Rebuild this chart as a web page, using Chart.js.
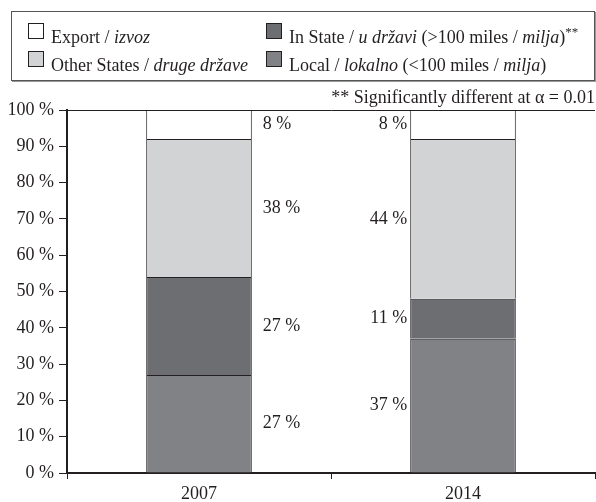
<!DOCTYPE html>
<html>
<head>
<meta charset="utf-8">
<script src="https://cdn.jsdelivr.net/npm/chart.js@4/dist/chart.umd.min.js"></script>
<style>
    body { margin: 0; background: #fff; }
    #wrap { position: relative; width: 596px; height: 502px; font-family: 'Liberation Serif', 'Times New Roman', serif; color: #231f20; }
    #legend { position: absolute; left: 11px; top: 11px; width: 582px; height: 68px; border: 1px solid #555; box-shadow: 1px 1px 0 #999; }
    .sw { position: absolute; width: 14px; height: 14px; border: 1px solid #231f20; }
    .lt { position: absolute; font-size: 18px; line-height: 18px; white-space: nowrap; }
    .lt sup { font-size: 13px; vertical-align: 7px; line-height: 0; }
    #note { position: absolute; right: 1px; top: 88px; font-size: 18px; line-height: 18px; white-space: nowrap; }
    canvas { position: absolute; left: 0; top: 0; }
</style>
</head>
<body>
<div id="wrap">
    <canvas id="chart" width="596" height="502"></canvas>
    <div id="legend"></div>
    <div id="note">** Significantly different at α = 0.01</div>
</div>
<script>
// Data
const years = ['2007', '2014'];
const local = [27, 37];
const inState = [27, 11];
const otherStates = [38, 44];
const exportShare = [8, 8];
const yTicks = [0, 10, 20, 30, 40, 50, 60, 70, 80, 90, 100];

const textColor = '#231f20';
const serif = "'Liberation Serif', 'Times New Roman', serif";

// Legend entries (html so the italic parts stay as real text)
const legendItems = [
    { color: '#ffffff', html: 'Export / <i>izvoz</i>', x: 16, y: 11 },
    { color: '#d1d3d4', html: 'Other States / <i>druge države</i>', x: 16, y: 39 },
    { color: '#6d6e71', html: 'In State / <i>u državi</i> (&gt;100 miles / <i>milja</i>)<sup>**</sup>', x: 254, y: 11 },
    { color: '#808285', html: 'Local / <i>lokalno</i> (&lt;100 miles / <i>milja</i>)', x: 254, y: 39 }
];

const legend = document.getElementById('legend');
legend.innerHTML = legendItems.map(item => `
    <div class="sw" style="left:${item.x}px;top:${item.y}px;background:${item.color}"></div>
    <div class="lt" style="left:${item.x + 23}px;top:${item.y + 5}px">${item.html}</div>
`).join('');

/**
 * Percent labels next to each segment: right of the 2007 bar, left of the 2014 bar
 */
const segmentLabels = {
    id: 'segmentLabels',
    afterDatasetsDraw(chart) {
        const ctx = chart.ctx;
        ctx.save();
        ctx.font = `18px ${serif}`;
        ctx.fillStyle = textColor;
        ctx.textBaseline = 'middle';
        chart.data.datasets.forEach((ds, di) => {
            const meta = chart.getDatasetMeta(di);
            meta.data.forEach((bar, i) => {
                const y = (bar.y + bar.base) / 2;
                if (i === 0) {
                    ctx.textAlign = 'left';
                    ctx.fillText(ds.data[i] + ' %', bar.x + bar.width / 2 + 11, y);
                } else {
                    ctx.textAlign = 'right';
                    ctx.fillText(ds.data[i] + ' %', bar.x - bar.width / 2 - 3, y);
                }
            });
        });
        ctx.restore();
    }
};

const barStyle = { borderColor: textColor, borderWidth: 1, borderSkipped: 'start', barPercentage: 0.4, categoryPercentage: 1 };

new Chart(document.getElementById('chart'), {
    type: 'bar',
    data: {
        labels: years,
        datasets: [
            { label: 'Local', data: local, backgroundColor: '#808285', ...barStyle },
            { label: 'In State', data: inState, backgroundColor: '#6d6e71', ...barStyle },
            { label: 'Other States', data: otherStates, backgroundColor: '#d1d3d4', ...barStyle },
            { label: 'Export', data: exportShare, backgroundColor: '#ffffff', ...barStyle }
        ]
    },
    options: {
        responsive: false,
        animation: false,
        layout: { padding: { top: 110, left: 0, right: 1, bottom: 0 } },
        plugins: {
            legend: { display: false },
            tooltip: { enabled: false }
        },
        scales: {
            x: {
                stacked: true,
                grid: { offset: true, drawOnChartArea: false, tickLength: 6, color: textColor, lineWidth: 1 },
                border: { color: textColor, width: 2 },
                ticks: { font: { family: serif, size: 18 }, color: textColor, padding: 4 },
                afterFit(scale) { scale.height = 29; }
            },
            y: {
                stacked: true,
                min: 0,
                max: 100,
                afterBuildTicks(scale) { scale.ticks = yTicks.map(v => ({ value: v })); },
                ticks: { font: { family: serif, size: 18 }, color: textColor, padding: 5, callback: v => v + ' %' },
                grid: {
                    drawOnChartArea: true,
                    color: c => (c.tick && c.tick.value === 100 ? textColor : 'transparent'),
                    tickColor: textColor,
                    tickLength: 8,
                    lineWidth: 1
                },
                border: { color: textColor, width: 2 },
                afterFit(scale) { scale.width = 67; }
            }
        }
    },
    plugins: [segmentLabels]
});
</script>
</body>
</html>
